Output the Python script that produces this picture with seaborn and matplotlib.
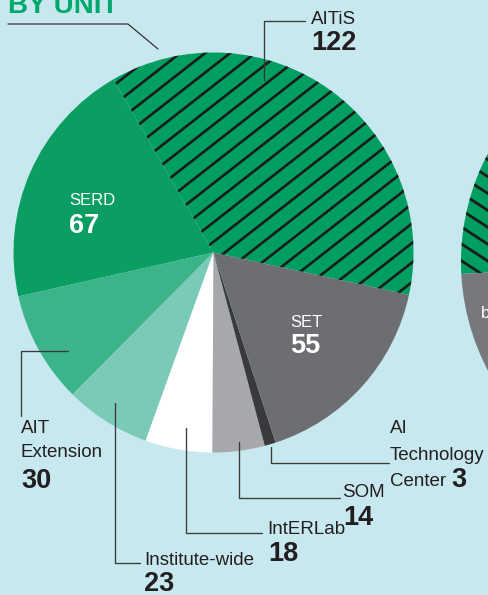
import numpy as np
import matplotlib
matplotlib.use("Agg")
import matplotlib.pyplot as plt
import seaborn as sns

# data: staff by unit (main pie), counter-clockwise from the right side
units = ["AITiS", "SERD", "AIT Extension", "Institute-wide", "IntERLab",
         "SOM", "AI Technology Center", "SET"]
counts = [122, 67, 30, 23, 18, 14, 3, 55]

# neighbouring chart, only its left edge is visible
next_parts = ["hatched", "grey", "rest"]
next_shares = [50.4, 33.3, 16.3]

BG = "#c8e8ef"
INK = "#231f20"
colors = ["#009e60", "#0a9e62", "#3cb48a", "#7acab7", "#ffffff",
          "#a7a8ac", "#3a3a3c", "#6d6e72"]
next_colors = ["#009e60", "#77787c", "#a7a8ac"]

sns.set_theme(style="white", rc={"axes.facecolor": BG, "figure.facecolor": BG})
plt.rcParams["font.family"] = ["Liberation Sans", "DejaVu Sans"]

fig = plt.figure(figsize=(4.89, 5.95), dpi=100)
ax = fig.add_axes([0, 0, 1, 1])

# y axis is flipped (pixel-like coords), so clockwise here = counter-clockwise on screen
wedges, _ = ax.pie(counts, colors=colors, startangle=12.25, counterclock=False,
                   radius=200, center=(213.5, 252.5),
                   wedgeprops=dict(linewidth=0))
nwedges, _ = ax.pie(next_shares, colors=next_colors, startangle=-1.5,
                    counterclock=False, radius=232, center=(693, 262),
                    wedgeprops=dict(linewidth=0))


def add_hatch(wedge, angle=38, step=20.7, rising=True, lw=1.6):
    """Diagonal hatch lines clipped to one wedge."""
    t = np.tan(np.radians(angle))
    xs = np.array([-50, 800])
    for c in np.arange(-900, 1500, step * t):
        ys = c - t * xs if rising else c + t * xs
        ln, = ax.plot(xs, ys, color="#1c1c1c", lw=lw, solid_capstyle="butt")
        ln.set_clip_path(wedge)


add_hatch(wedges[0], angle=38, step=25, lw=1.9)
add_hatch(nwedges[0], angle=33, step=26, rising=False, lw=2.0)

ax.set_xlim(0, 489)
ax.set_ylim(595, 0)
ax.set_axis_off()

# title (cut off at the top in the source)
ax.text(8, 13, "BY UNIT", color="#00a86b", fontsize=20, fontweight="bold",
        va="baseline", ha="left")
ax.plot([8, 128, 158], [24, 24, 49], color="#333333", lw=0.9)

lab = dict(fontsize=13.5, color=INK, va="baseline", ha="left")
num = dict(fontsize=19.5, color=INK, va="baseline", ha="left", fontweight="bold")
lead = dict(color="#3a3a3a", lw=0.95)

# labels inside the pie
ax.text(69, 205, units[1], fontsize=12, color="white", va="baseline")
ax.text(69, 233, str(counts[1]), fontsize=19.5, color="white",
        fontweight="bold", va="baseline")
ax.text(290, 327, units[7], fontsize=12, color="white", va="baseline")
ax.text(290, 353, str(counts[7]), fontsize=19.5, color="white",
        fontweight="bold", va="baseline")
ax.text(481, 318, "b", fontsize=12, color="white", va="baseline")

# AITiS
ax.plot([264, 264, 305], [80, 21, 21], **lead)
ax.text(311, 24, units[0], **lab)
ax.text(311, 50, str(counts[0]), **num)

# AIT Extension
ax.plot([68, 21, 21], [351, 351, 416], **lead)
ax.text(21, 433, "AIT", **lab)
ax.text(21, 457, "Extension", **lab)
ax.text(21, 488, str(counts[2]), **num)

# Institute-wide
ax.plot([115, 115, 140], [403, 563, 563], **lead)
ax.text(144, 565, units[3], **lab)
ax.text(144, 591, str(counts[3]), **num)

# IntERLab
ax.plot([186, 186, 262], [428, 533, 533], **lead)
ax.text(267, 534, units[4], **lab)
ax.text(268, 561, str(counts[4]), **num)

# SOM
ax.plot([239, 239, 340], [442, 498, 498], **lead)
ax.text(342, 497, units[5], **lab)
ax.text(343, 525, str(counts[5]), **num)

# AI Technology Center
ax.plot([271, 271, 389], [447, 463, 463], **lead)
ax.text(390, 433, "AI", **lab)
ax.text(390, 460, "Technology", **lab)
ax.text(390, 486, "Center", **lab)
ax.text(451, 487, str(counts[6]), **num)

fig.savefig("out.png", dpi=100, facecolor=BG)
